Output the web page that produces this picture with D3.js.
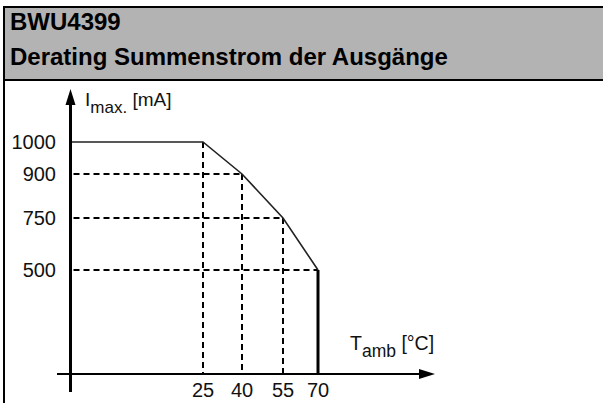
<!DOCTYPE html>
<html><head><meta charset="utf-8">
<script src="https://cdn.jsdelivr.net/npm/d3@7"></script>
<style>html,body{margin:0;padding:0;background:#fff}svg{display:block}text{font-family:"Liberation Sans",Arial,sans-serif}</style>
</head><body>
<script>
const titleLines = ["BWU4399", "Derating Summenstrom der Ausgänge"];
const tempTicks = [25, 40, 55, 70];
const currentTicks = [1000, 900, 750, 500];
const tempValues = [0, 25, 40, 55, 70];
const currentValues = [1000, 1000, 900, 750, 500];

const W = 603, H = 403;
const svg = d3.select("body").append("svg").attr("width", W).attr("height", H);

// frame & header
svg.append("rect").attr("x", 4).attr("y", 7).attr("width", W).attr("height", 73).attr("fill", "#b3b3b3");
svg.append("line").attr("x1", 3).attr("x2", W).attr("y1", 7).attr("y2", 7).attr("stroke", "#000").attr("stroke-width", 2);
svg.append("line").attr("x1", 4).attr("x2", 4).attr("y1", 6).attr("y2", H).attr("stroke", "#000").attr("stroke-width", 2);
svg.append("line").attr("x1", 4).attr("x2", W).attr("y1", 80).attr("y2", 80).attr("stroke", "#000").attr("stroke-width", 2);
titleLines.forEach((t, i) => {
  svg.append("text").attr("x", 10).attr("y", 30 + i * 35).attr("font-size", 24).attr("font-weight", "bold").attr("fill", "#000").text(t);
});

// schematic (non-linear) scales
const x = d3.scaleLinear().domain([0, 25, 40, 55, 70]).range([70.5, 203, 242, 283, 318]);
const y = d3.scaleLinear().domain([0, 500, 750, 900, 1000]).range([374, 270, 218, 174, 142]);

const g = svg.append("g");
// dashed guides
tempTicks.slice(0, 3).forEach((t, i) => {
  const v = currentValues[i + 1];
  g.append("line").attr("x1", x(t)).attr("x2", x(t)).attr("y1", y(v)).attr("y2", y(0))
    .attr("stroke", "#000").attr("stroke-width", 2).attr("stroke-dasharray", "6,4");
});
currentTicks.slice(1).forEach((c, i) => {
  const tt = tempValues[i + 2];
  g.append("line").attr("x1", x(0) + 3).attr("x2", x(tt)).attr("y1", y(c)).attr("y2", y(c))
    .attr("stroke", "#000").attr("stroke-width", 2).attr("stroke-dasharray", "6,4");
});

// curve
const pts = tempValues.map((t, i) => [x(t), y(currentValues[i])]);
g.append("path").attr("d", d3.line()(pts)).attr("fill", "none").attr("stroke", "#222").attr("stroke-width", 1.6);
g.append("line").attr("x1", x(70)).attr("x2", x(70)).attr("y1", y(500)).attr("y2", y(0))
  .attr("stroke", "#000").attr("stroke-width", 3);

// axes
g.append("line").attr("x1", 57).attr("x2", 422).attr("y1", 374).attr("y2", 374).attr("stroke", "#000").attr("stroke-width", 2);
g.append("path").attr("d", "M419,369 L435,374 L419,379 Z").attr("fill", "#000");
g.append("line").attr("x1", 70.5).attr("x2", 70.5).attr("y1", 392).attr("y2", 100).attr("stroke", "#000").attr("stroke-width", 3);
g.append("path").attr("d", "M65.5,105 L70.5,89 L75.5,105 Z").attr("fill", "#000");

// tick labels
currentTicks.forEach(c => {
  g.append("text").attr("x", 56).attr("y", y(c)).attr("dy", "0.36em").attr("text-anchor", "end")
    .attr("font-size", 20).attr("fill", "#111").text(c);
});
tempTicks.forEach(t => {
  g.append("text").attr("x", x(t)).attr("y", 397).attr("text-anchor", "middle")
    .attr("font-size", 20).attr("fill", "#111").text(t);
});

// axis titles
const yl = g.append("text").attr("x", 85).attr("y", 106).attr("font-size", 19).attr("fill", "#111");
yl.append("tspan").text("I");
yl.append("tspan").attr("dy", 7).attr("font-size", 17).text("max.");
yl.append("tspan").attr("dy", -7).text(" [mA]");
const xl = g.append("text").attr("x", 350).attr("y", 350).attr("font-size", 19.5).attr("fill", "#111");
xl.append("tspan").text("T");
xl.append("tspan").attr("dy", 7).attr("font-size", 17.5).text("amb");
xl.append("tspan").attr("dy", -7).text(" [°C]");
</script>
</body></html>
